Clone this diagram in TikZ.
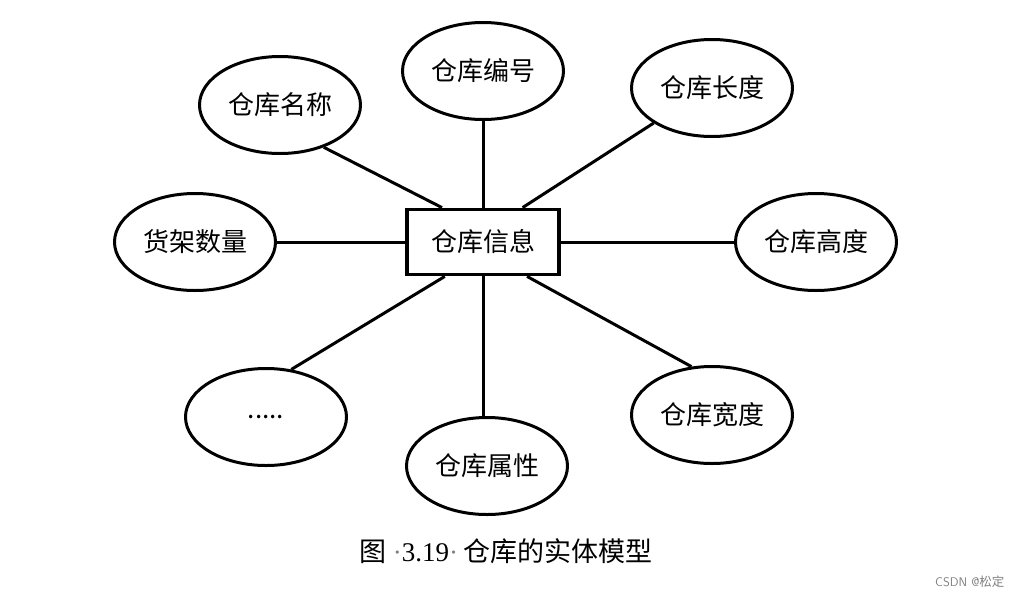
\documentclass[tikz,border=0pt]{standalone}
\usepackage{fontspec}
\setmainfont{Liberation Serif}
\newfontfamily\cjk{Noto Sans CJK SC}
\usetikzlibrary{shapes.geometric}

\begin{document}
\begin{tikzpicture}[x=1pt, y=-1pt, font=\cjk\fontsize{26}{30}\selectfont,
  attr/.style={draw, ellipse, line width=3pt, minimum width=161pt, minimum height=97pt, inner sep=0pt},
  ent/.style={draw, rectangle, line width=3.8pt, minimum width=152pt, minimum height=65pt, inner sep=0pt},
  link/.style={line width=3pt}]
\useasboundingbox (0,0) rectangle (1023,598);
\node[ent] (info) at (483,242) {仓库信息};
\node[attr] (name) at (280,105) {仓库名称};
\node[attr] (num) at (483,71) {仓库编号};
\node[attr] (len) at (712,88) {仓库长度};
\node[attr] (cnt) at (195,242) {货架数量};
\node[attr] (hgt) at (816,242) {仓库高度};
\node[attr] (more) at (266,417) {.....};
\node[attr] (prop) at (487,466) {仓库属性};
\node[attr] (wid) at (712,415) {仓库宽度};
\node[font=\fontsize{27}{30}\selectfont] (cap) at (506,551)
  {\cjk 图\rmfamily\hspace{6pt}{\color{gray}·}3.19{\color{gray}·}\hspace{5pt}\cjk 仓库的实体模型};
\node[font=\sffamily\fontsize{12.5}{14}\selectfont, text=gray, anchor=east] (mark) at (1008,582) {CSDN @{\cjk 松定}};
\draw[link] (info.140) -- (name.316);
\draw[link] (info.north) -- (num.south);
\draw[link] (info.41) -- (len.211);
\draw[link] (info.west) -- (cnt.east);
\draw[link] (info.east) -- (hgt.west);
\draw[link] (info.222) -- (more.62);
\draw[link] (info.south) -- (prop.north -| info.south);
\draw[link] (info.322) -- (wid.113);
\end{tikzpicture}
\end{document}
